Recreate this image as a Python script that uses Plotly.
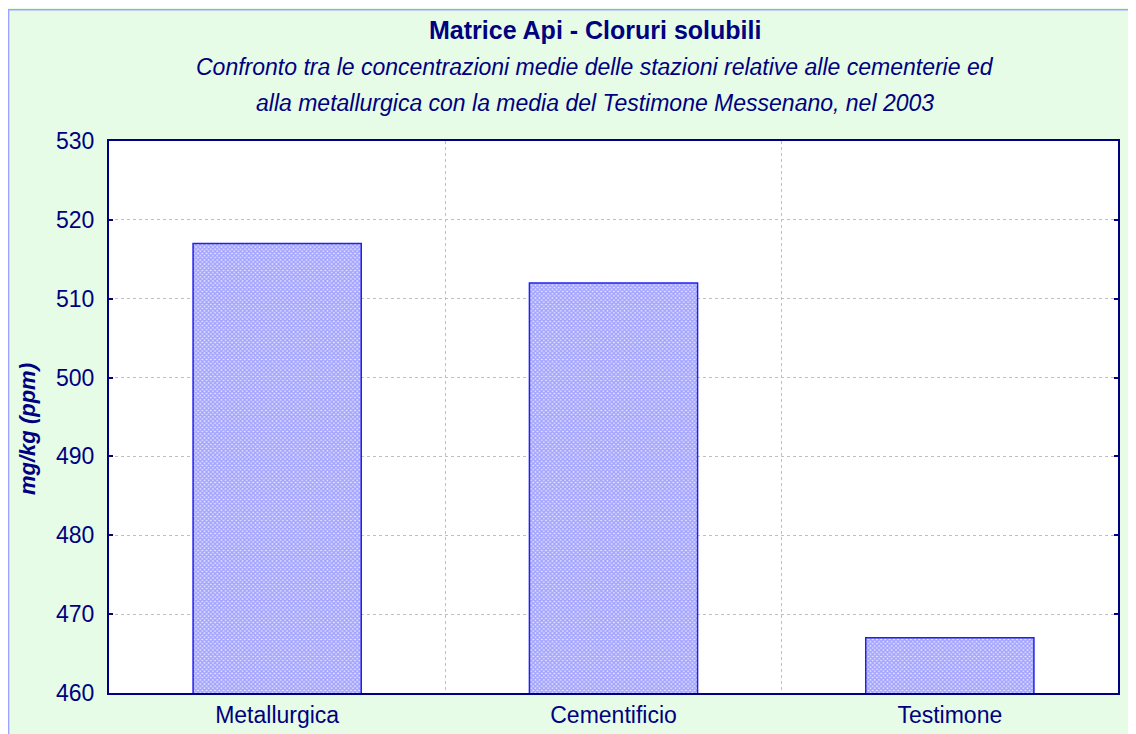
import plotly.graph_objects as go

categories = ["Metallurgica", "Cementificio", "Testimone"]
values = [517.0, 512.0, 467.0]
y_ticks = [460, 470, 480, 490, 500, 510, 520, 530]

title_text = "Matrice Api - Cloruri solubili"
subtitle_lines = [
    "Confronto tra le concentrazioni medie delle stazioni relative alle cementerie ed",
    "alla metallurgica con la media del Testimone Messenano, nel 2003",
]
y_title = "mg/kg (ppm)"

NAVY = "#000080"
GREEN = "#E6FCE6"
FONT = "Liberation Sans, Arial, sans-serif"

W, H = 1136, 734
L, R, T, B = 101, 26, 133, 49
pw, ph = W - L - R, H - T - B


def px_x(x):
    return (x - L) / pw


def px_y(y):
    return (H - B - y) / ph


fig = go.Figure()
fig.add_trace(go.Bar(
    x=categories,
    y=values,
    width=0.5,
    marker=dict(
        color="#E0E0FF",
        line=dict(color="#2020F0", width=1.5),
        pattern=dict(shape="x", size=3, solidity=0.7, fgcolor="#6060FF", bgcolor="#E4E4FF"),
    ),
    hoverinfo="x+y",
))

fig.update_layout(
    width=W, height=H,
    margin=dict(l=L, r=R, t=T, b=B, pad=0),
    paper_bgcolor=GREEN,
    plot_bgcolor="white",
    showlegend=False,
    font=dict(family=FONT, color=NAVY),
)

fig.update_xaxes(
    type="category",
    tickson="boundaries",
    showgrid=True, gridcolor="#C0C0C0", griddash="dot", gridwidth=1,
    showline=True, linecolor=NAVY, linewidth=2, mirror=True,
    ticks="", tickfont=dict(size=23, color=NAVY, family=FONT),
    range=[-0.5, 2.5],
)
fig.update_yaxes(
    range=[460, 530],
    tickvals=y_ticks,
    showgrid=True, gridcolor="#C0C0C0", griddash="dot", gridwidth=1,
    showline=True, linecolor=NAVY, linewidth=2, mirror="ticks",
    ticks="inside", ticklen=4, tickcolor=NAVY, tickwidth=1.5,
    ticklabelstandoff=8,
    tickfont=dict(size=23, color=NAVY, family=FONT),
    zeroline=False,
)

annotations = [
    dict(text=f"<b>{title_text}</b>", x=px_x(587), y=px_y(22), xref="paper", yref="paper",
         showarrow=False, xanchor="center", yanchor="middle",
         font=dict(size=25, color=NAVY, family=FONT)),
]
for i, line in enumerate(subtitle_lines):
    annotations.append(dict(
        text=f"<i>{line}</i>", x=px_x(587), y=px_y(59 + 36 * i), xref="paper", yref="paper",
        showarrow=False, xanchor="center", yanchor="middle",
        font=dict(size=23, color=NAVY, family=FONT)))
annotations.append(dict(
    text=f"<b><i>{y_title}</i></b>", x=px_x(19), y=px_y(421), xref="paper", yref="paper",
    showarrow=False, textangle=-90, xanchor="center", yanchor="middle",
    font=dict(size=22, color=NAVY, family=FONT)))
fig.update_layout(annotations=annotations)

# light-blue frame edge along the top and left of the page
shapes = [
    dict(type="line", xref="paper", yref="paper", x0=px_x(0), x1=px_x(W + 5), y0=px_y(1.8), y1=px_y(1.8),
         line=dict(color="#A0A0FF", width=1.5), layer="above"),
    dict(type="line", xref="paper", yref="paper", x0=px_x(0.6), x1=px_x(0.6), y0=px_y(1), y1=px_y(H + 5),
         line=dict(color="#A0A0FF", width=1.5), layer="above"),
]
fig.update_layout(shapes=shapes)

fig.write_html("out.html")
